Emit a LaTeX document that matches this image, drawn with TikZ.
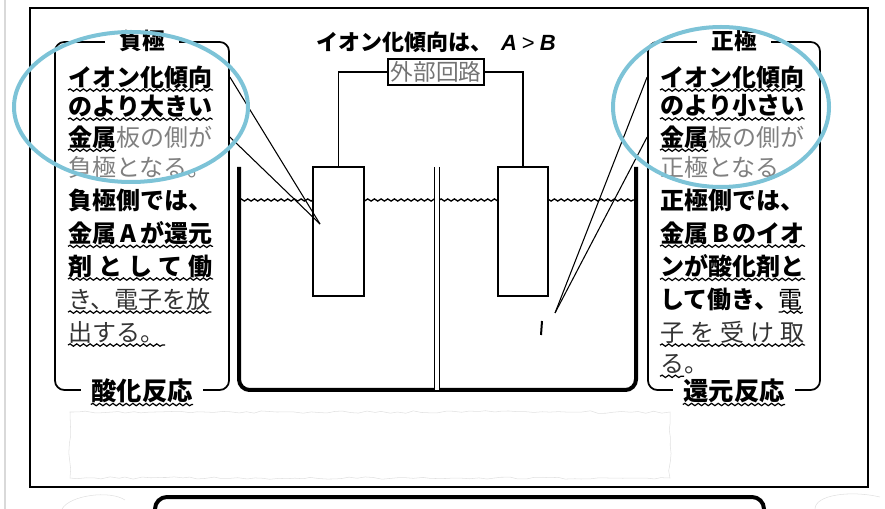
\documentclass[tikz,border=0pt]{standalone}
\usepackage{fontspec}
\newfontfamily\jp{Noto Sans CJK JP}
\newfontfamily\lat{Liberation Sans}
\usetikzlibrary{decorations.pathmorphing}
\definecolor{ringblue}{RGB}{125,195,215}
\tikzset{
	wavy/.style={decorate, decoration={snake, amplitude=0.9pt, segment length=5pt}, line width=0.9pt},
	surface/.style={decorate, decoration={snake, amplitude=0.8pt, segment length=5pt}, line width=1pt},
	panel/.style={draw, line width=1.3pt, rounded corners=7pt, minimum width=#1, minimum height=261pt, inner sep=0pt},
	tag/.style={fill=white, inner xsep=#1, inner ysep=1pt, font=\jp\bfseries\fontsize{17}{17}\selectfont},
	endtag/.style={tag=#1, font=\jp\bfseries\fontsize{19}{19}\selectfont},
	txt/.style={anchor=west, inner sep=0pt, font=\jp\fontsize{18}{18}\selectfont},
	electrode/.style={draw, fill=white, line width=1.5pt, minimum width=38pt, minimum height=97pt, inner sep=0pt},
	ring/.style={draw=ringblue, line width=3pt}
}
\begin{document}
\begin{tikzpicture}[x=0.75pt, y=-0.75pt, thick]
	\useasboundingbox (0,0) rectangle (885,509);
	\clip (0,0) rectangle (885,509);
	\draw[black!15] (5,0) -- (5,509);
	\draw[line width=2pt] (30,8) rectangle (868,487);
	\draw[black!12, thin, decorate, decoration={random steps, segment length=6pt, amplitude=1pt}] (70,412) rectangle (670,478);
	\draw[black!12, thin] (62,509) .. controls (70,495) and (110,490) .. (125,500);
	\draw[black!12, thin] (815,509) .. controls (815,495) and (850,490) .. (880,497);
	\draw[line width=3pt, rounded corners=9pt] (155,530) rectangle (764,497);

	\node[font=\jp\bfseries\fontsize{16.5}{16.5}\selectfont] (title) at (436,42) {イオン化傾向は、\hspace{0.4em}{\lat\bfseries\itshape A} {\lat\mdseries >} {\lat\bfseries\itshape B}};
	\node[draw, line width=1.3pt, inner sep=2pt, text=black!55, font=\jp\fontsize{17}{17}\selectfont] (circuit) at (436,72) {外部回路};

	\draw[line width=3pt, rounded corners=8pt] (239,167) -- (239,390) -- (636,390) -- (636,167);
	\draw[surface] (239,200) -- (636,200);
	\draw[double, double distance=2.5pt, line width=0.8pt] (437,167) -- (437,390);
	\node[electrode] (anode) at (338.5,231.5) {};
	\node[electrode] (cathode) at (523,231.5) {};
	\draw[line width=1.3pt] (anode.north) |- (circuit.west);
	\draw[line width=1.3pt] (cathode.north) |- (circuit.east);

	\node[panel=130.5pt] (negbox) at (142,216) {};
	\node[tag=11pt] (negtop) at (negbox.north) {負極};
	\node[endtag=8pt] (negend) at (negbox.south) {酸化反応};
	\node[panel=129pt] (posbox) at (734,216) {};
	\node[tag=11pt] (postop) at (posbox.north) {正極};
	\node[endtag=8pt] (posend) at (posbox.south) {還元反応};
	\draw[wavy] ([xshift=8pt, yshift=-3pt]negend.base west) -- ([xshift=-8pt, yshift=-3pt]negend.base east);
	\draw[wavy] ([xshift=8pt, yshift=-3pt]posend.base west) -- ([xshift=-8pt, yshift=-3pt]posend.base east);

	\node[txt] (ln1) at (68,77) {\bfseries イオン化傾向};
	\node[txt] (ln2) at (68,106) {\bfseries のより大きい};
	\node[txt] (ln3) at (68,137) {\bfseries 金属\mdseries\color{black!50}板の側が};
	\node[txt] (ln4) at (68,167) {\color{black!50}負極となる。};
	\node[txt] (ln5) at (68,200) {\bfseries 負極側では、};
	\node[txt] (ln6) at (68,233) {\bfseries\makebox[108pt][l]{金属\hfill A\hfill が還元}};
	\node[txt] (ln7) at (68,266) {\bfseries\makebox[108pt][l]{剤\hfill と\hfill し\hfill て\hfill 働}};
	\node[txt] (ln8) at (68,299) {\color{black!80}き、電子を放};
	\node[txt] (ln9) at (68,332) {\color{black!80}出する。};
	\foreach \n in {ln1, ln2, ln6, ln7, ln8, ln9}
		\draw[wavy] ([yshift=-3pt]\n.base west) -- ([yshift=-3pt]\n.base east);
	\draw[wavy] ([yshift=-3pt]ln3.base west) -- ++(36pt,0);

	\node[txt] (rn1) at (660,77) {\bfseries イオン化傾向};
	\node[txt] (rn2) at (660,106) {\bfseries のより小さい};
	\node[txt] (rn3) at (660,137) {\bfseries 金属\mdseries\color{black!50}板の側が};
	\node[txt] (rn4) at (660,167) {\color{black!50}正極となる};
	\node[txt] (rn5) at (660,200) {\bfseries 正極側では、};
	\node[txt] (rn6) at (660,233) {\bfseries\makebox[108pt][l]{金属\hfill B\hfill のイオ}};
	\node[txt] (rn7) at (660,266) {\bfseries ンが酸化剤と};
	\node[txt] (rn8) at (660,299) {\bfseries して働き、\mdseries 電};
	\node[txt] (rn9) at (660,332) {\color{black!80}\makebox[108pt][l]{子\hfill を\hfill 受\hfill け\hfill 取}};
	\node[txt] (rn10) at (660,364) {\color{black!80}る。};
	\foreach \n in {rn1, rn2, rn6, rn7, rn9}
		\draw[wavy] ([yshift=-3pt]\n.base west) -- ([yshift=-3pt]\n.base east);
	\draw[wavy] ([yshift=-3pt]rn3.base west) -- ++(36pt,0);
	\draw[wavy] ([yshift=-3pt]rn8.base east) -- ++(-18pt,0);
	\draw[wavy] ([yshift=-3pt]rn10.base west) -- ++(18pt,0);

	\coordinate (ltip) at (320,224);
	\coordinate (rtip) at (555,313);
	\draw (negbox.east |- ln1) -- (ltip);
	\draw (negbox.east |- ln3) -- (ltip);
	\draw (posbox.west |- rn1) -- (rtip);
	\draw (posbox.west |- rn3) -- (rtip);
	\draw[line width=1.5pt] (542,321) -- (541,335);

	\draw[ring] (131,107) ellipse [x radius=117, y radius=75];
	\draw[ring] (721,107) ellipse [x radius=108, y radius=80];
\end{tikzpicture}
\end{document}
